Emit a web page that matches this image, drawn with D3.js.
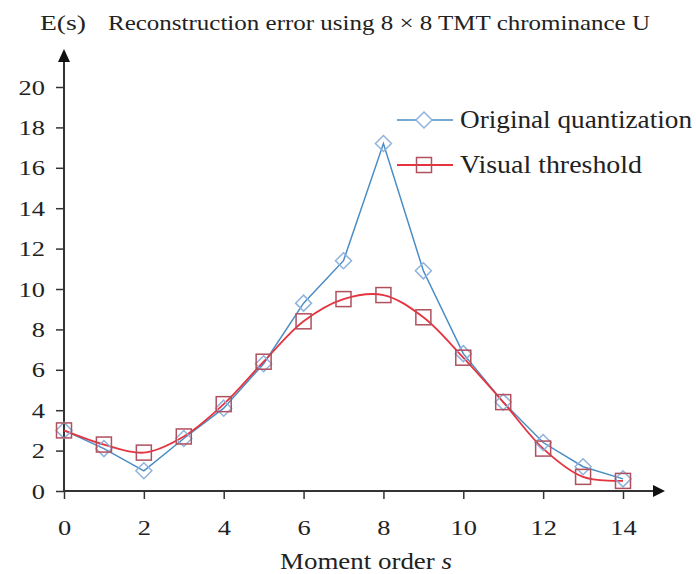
<!DOCTYPE html>
<html><head><meta charset="utf-8">
<script src="https://cdn.jsdelivr.net/npm/d3@7/dist/d3.min.js"></script>
<style>body{margin:0;background:#fff} svg text{font-family:'Liberation Serif';}</style></head>
<body><svg id="c" width="696" height="574"></svg>
<script>
const orders = [0,1,2,3,4,5,6,7,8,9,10,11,12,13,14];
const originalQuant = [3.0,2.1,1.0,2.6,4.1,6.3,9.3,11.4,17.2,10.9,6.8,4.4,2.4,1.2,0.6];
const visualThresh = [3.0,2.3,1.9,2.7,4.3,6.4,8.4,9.5,9.7,8.6,6.6,4.4,2.1,0.7,0.5];
const xTicks = [0,2,4,6,8,10,12,14];
const yTicks = [0,2,4,6,8,10,12,14,16,18,20];
const seriesNames = ["Original quantization","Visual threshold"];

const svg = d3.select("#c");
const x = d3.scaleLinear().domain([0,14]).range([64,623]);
const y = d3.scaleLinear().domain([0,20]).range([491,87]);

const xa = svg.append("g").attr("transform","translate(0,491)")
  .call(d3.axisBottom(x).tickValues(xTicks).tickSize(8).tickPadding(20).tickSizeOuter(0));
const ya = svg.append("g").attr("transform","translate(64,0)")
  .call(d3.axisLeft(y).tickValues(yTicks).tickSize(8).tickPadding(18).tickSizeOuter(0));
[xa,ya].forEach(a=>{
  a.attr("font-family",null).attr("font-size",null);
  a.select(".domain").remove();
  a.selectAll("line").attr("stroke","#333").attr("stroke-width",1.5);
  a.selectAll("text").style("font-size","22px").attr("fill","#222");
});
ya.selectAll("text").attr("transform","scale(1.2,1)").attr("x",-19/1.2);
xa.selectAll("text").attr("transform","scale(1.2,1)");

svg.append("line").attr("x1",64).attr("y1",491).attr("x2",655).attr("y2",491).attr("stroke","#333").attr("stroke-width",2);
svg.append("path").attr("d","M653,485 L665,491 L653,497 Z").attr("fill","#111");
svg.append("line").attr("x1",64).attr("y1",491).attr("x2",64).attr("y2",60).attr("stroke","#333").attr("stroke-width",2);
svg.append("path").attr("d","M58,62 L64,49 L70,62 Z").attr("fill","#111");

const blueLine = "#4a8cc4", blueMark = "#8fb3dc", redLine = "#e5343f", redMark = "#b0505e";
const lineB = d3.line().x((d,i)=>x(orders[i])).y(d=>y(d));
const lineR = d3.line().x((d,i)=>x(orders[i])).y(d=>y(d)).curve(d3.curveCatmullRom.alpha(0.5));
svg.append("path").attr("d",lineB(originalQuant)).attr("fill","none").attr("stroke",blueLine).attr("stroke-width",1.5);
svg.append("path").attr("d",lineR(visualThresh)).attr("fill","none").attr("stroke",redLine).attr("stroke-width",1.8);

const diamond = (cx,cy)=>`M${cx},${cy-8} L${cx+8},${cy} L${cx},${cy+8} L${cx-8},${cy} Z`;
svg.append("g").selectAll("path").data(originalQuant).join("path")
  .attr("d",(d,i)=>diamond(x(orders[i]),y(d))).attr("fill","none").attr("stroke",blueMark).attr("stroke-width",1.5);
svg.append("g").selectAll("rect").data(visualThresh).join("rect")
  .attr("x",(d,i)=>x(orders[i])-7.5).attr("y",d=>y(d)-7.5).attr("width",15).attr("height",15)
  .attr("fill","none").attr("stroke",redMark).attr("stroke-width",1.5);

svg.append("line").attr("x1",397).attr("x2",453).attr("y1",120).attr("y2",120).attr("stroke",blueLine).attr("stroke-width",1.5);
svg.append("path").attr("d",diamond(424,120)).attr("fill","#fff").attr("stroke",blueMark).attr("stroke-width",1.5);
svg.append("line").attr("x1",397).attr("x2",453).attr("y1",165).attr("y2",165).attr("stroke",redLine).attr("stroke-width",1.8);
svg.append("rect").attr("x",424-7.5).attr("y",165-7.5).attr("width",15).attr("height",15).attr("fill","none").attr("stroke",redMark).attr("stroke-width",1.5);
svg.append("text").attr("x",460).attr("y",128).text(seriesNames[0]).style("font-size","25px").attr("fill","#222")
  .attr("textLength",232).attr("lengthAdjust","spacingAndGlyphs");
svg.append("text").attr("x",460).attr("y",173).text(seriesNames[1]).style("font-size","25px").attr("fill","#222")
  .attr("textLength",182).attr("lengthAdjust","spacingAndGlyphs");

svg.append("text").attr("x",40).attr("y",30).text("E(s)").style("font-size","22px").attr("fill","#222")
  .attr("textLength",46).attr("lengthAdjust","spacingAndGlyphs");
svg.append("text").attr("x",108).attr("y",30).text("Reconstruction error using 8 \u00d7 8 TMT chrominance U").style("font-size","22px").attr("fill","#222")
  .attr("textLength",542).attr("lengthAdjust","spacingAndGlyphs");
const xl = svg.append("text").attr("x",280).attr("y",569).style("font-size","24px").attr("fill","#222")
  .attr("textLength",172).attr("lengthAdjust","spacingAndGlyphs");
xl.append("tspan").text("Moment order ");
xl.append("tspan").attr("font-style","italic").text("s");
</script></body></html>
